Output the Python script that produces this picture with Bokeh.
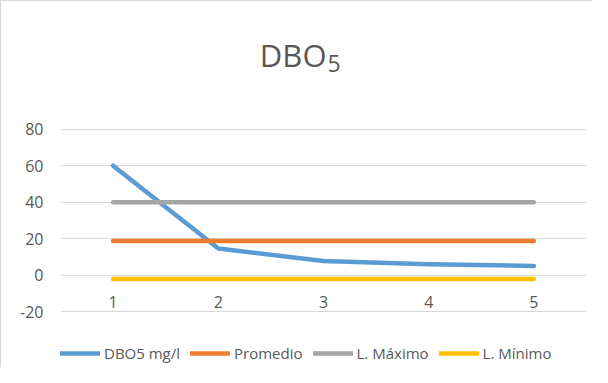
from bokeh.plotting import figure
from bokeh.models import Range1d, FixedTicker, Legend, LegendItem, Label, ColumnDataSource
from bokeh.core.properties import value
from bokeh.embed import file_html
from bokeh.resources import INLINE

# ---- data ----
categories = [1, 2, 3, 4, 5]
tick_labels = ["1", "2", "3", "4", "5"]
dbo5 = [60, 14.6, 7.8, 6.0, 5.1]
promedio = [18.7, 18.7, 18.7, 18.7, 18.7]
l_maximo = [40, 40, 40, 40, 40]
l_minimo = [-2, -2, -2, -2, -2]
y_ticks = [-20, 0, 20, 40, 60, 80]
y_tick_labels = ["-20", "0", "20", "40", "60", "80"]
x_axis_crossing = 0

series_names = ["DBO5 mg/l", "Promedio", "L. Máximo", "L. Mínimo"]
series_values = [dbo5, promedio, l_maximo, l_minimo]
series_colors = ["#5B9BD5", "#ED7D31", "#A5A5A5", "#FFC000"]

FONT = "Open Sans"
TEXT = "#595959"
GRID = "#d9d9d9"

# frame spans the full height so titles and legend are not clipped;
# value range -20..80 sits where the reference plot area is
p = figure(width=592, height=367, output_backend="svg", toolbar_location=None,
           title=None,
           x_range=Range1d(0.5, 5.5), y_range=Range1d(-51.05, 149.9),
           min_border_left=59, min_border_right=7, min_border_top=0,
           min_border_bottom=0)
p.outline_line_color = None
p.background_fill_color = "white"
p.border_fill_color = "white"
p.styles = {"border-left": "1px solid #d9d9d9", "border-top": "1px solid #d9d9d9"}

# y axis (left panel)
p.yaxis.ticker = FixedTicker(ticks=y_ticks)
p.yaxis.major_label_overrides = {t: l for t, l in zip(y_ticks, y_tick_labels)}
p.yaxis.axis_line_color = None
p.yaxis.major_tick_line_color = None
p.yaxis.minor_tick_line_color = None
p.yaxis.major_tick_out = 0
p.yaxis.major_tick_in = 0
p.yaxis.major_label_standoff = 17
p.yaxis.major_label_text_font = FONT
p.yaxis.major_label_text_font_size = "16px"
p.yaxis.major_label_text_color = TEXT

# x axis labels drawn below the zero line
p.xaxis.visible = False
p.xgrid.grid_line_color = None
p.ygrid.ticker = FixedTicker(ticks=y_ticks)
p.ygrid.grid_line_color = GRID
p.ygrid.grid_line_width = 1

lbl_src = ColumnDataSource(dict(x=categories,
                                y=[x_axis_crossing] * len(categories),
                                t=tick_labels))
p.text(x="x", y="y", text="t", source=lbl_src, y_offset=27,
       text_align="center", text_baseline="alphabetic",
       text_font=value(FONT), text_font_size="16px", text_color=TEXT)

items = []
for name, vals, col in zip(series_names, series_values, series_colors):
    r = p.line(categories, vals, line_color=col, line_width=4.5,
               line_cap="round", line_join="round")
    items.append(LegendItem(label=name, renderers=[r]))

legend = Legend(items=items, location=(0, 5), orientation="horizontal",
                glyph_width=40, glyph_height=20, label_standoff=4, spacing=10,
                padding=0, margin=0, border_line_color=None,
                background_fill_alpha=0,
                label_text_font=FONT, label_text_font_size="15px",
                label_text_color=TEXT, label_height=20)
p.add_layout(legend, "center")

# title DBO with subscript 5
p.add_layout(Label(x=3, y=120.4, x_offset=3, text="DBO",
                   text_align="right", text_baseline="alphabetic",
                   text_font=FONT, text_font_size="31px", text_color=TEXT))
p.add_layout(Label(x=3, y=120.4, x_offset=4, y_offset=-8, text="5",
                   text_align="left", text_baseline="alphabetic",
                   text_font=FONT, text_font_size="23px", text_color=TEXT))

open("out.html", "w").write(file_html(p, INLINE))
